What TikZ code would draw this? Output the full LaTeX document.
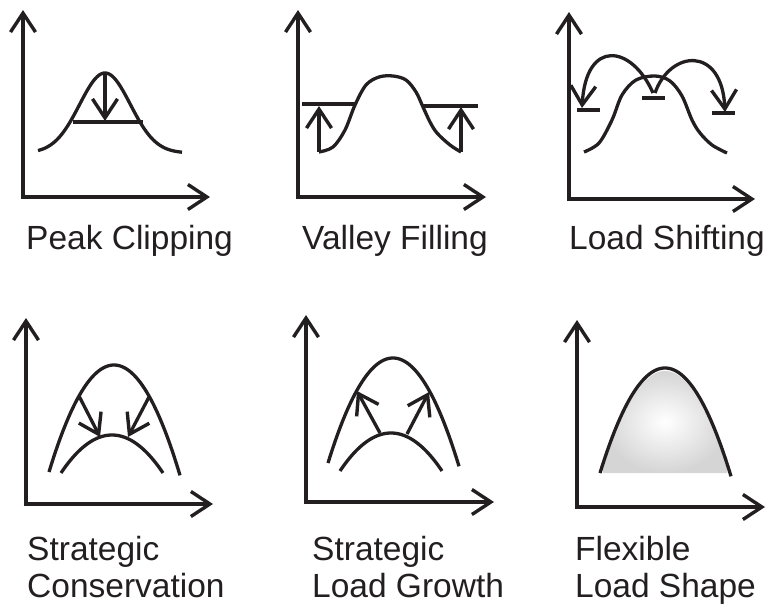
\documentclass[tikz,border=0pt]{standalone}
\usepackage{fontspec}
\setmainfont{Liberation Sans}
\usetikzlibrary{arrows.meta}
\definecolor{ink}{RGB}{35,31,32}
\begin{document}
\begin{tikzpicture}[x=1pt,y=-1pt,
  ln/.style={line width=3.3pt, draw=ink, line join=miter},
  barb/.tip={Straight Barb[length=19pt,width=25pt,line width=3.4pt]},
  ax/.style={ln, barb-barb},
  arr/.style={ln, -barb},
  lab/.style={anchor=base west, inner sep=0pt, align=left, text=ink,
    font=\fontsize{33.5}{37}\selectfont}]
\useasboundingbox (0,0) rectangle (768,612);

% ---------- Panel 1: Peak Clipping ----------
\coordinate (a1t) at (23,10); \coordinate (a1o) at (23,197); \coordinate (a1r) at (210,197);
\draw[ax] (a1t) -- (a1o) -- (a1r);
\draw[ln] plot[domain=38:182, samples=80, smooth] (\x,{153-80*exp(-((\x-105)/35.9)^2)});
\coordinate (c1l) at (73,122); \coordinate (c1r) at (143,122);
\draw[ln] (c1l) -- (c1r);
\coordinate (p1a) at (105,73); \coordinate (p1b) at (105,121);
\draw[arr] (p1a) -- (p1b);
\node[lab] (t1) at (26,250) {Peak Clipping};

% ---------- Panel 2: Valley Filling ----------
\coordinate (a2t) at (298,10); \coordinate (a2o) at (298,197); \coordinate (a2r) at (486,197);
\draw[ax] (a2t) -- (a2o) -- (a2r);
\draw[ln] plot[smooth, tension=0.55] coordinates {(319,152) (333,147) (345,130) (355,105) (366,85) (379,77) (393,76) (406,80) (416,92) (423,107) (430,122) (437,133) (450,145) (461,152)};
\coordinate (v2a) at (302,104); \coordinate (v2b) at (355,104);
\coordinate (v2c) at (423,106); \coordinate (v2d) at (478,106);
\draw[ln] (v2a) -- (v2b);
\draw[ln] (v2c) -- (v2d);
\coordinate (u2a) at (319,152); \coordinate (u2b) at (319,106);
\coordinate (u2c) at (461,152); \coordinate (u2d) at (461,107);
\draw[arr] (u2a) -- (u2b);
\draw[arr] (u2c) -- (u2d);
\node[lab] (t2) at (302,250) {Valley Filling};

% ---------- Panel 3: Load Shifting ----------
\coordinate (a3t) at (569,12); \coordinate (a3o) at (569,199); \coordinate (a3r) at (755,199);
\draw[ax] (a3t) -- (a3o) -- (a3r);
\draw[ln] plot[smooth, tension=0.55] coordinates {(584,152) (599,143) (612,120) (622,95) (636,80) (655,76) (670,81) (682,96) (692,120) (700,133) (712,145) (727,153)};
\coordinate (s3m) at (653,93); \coordinate (s3n) at (655,93);
\coordinate (s3l) at (582,108); \coordinate (s3r) at (725,112);
\draw[arr] (s3m) .. controls (632,45) and (586,38) .. (s3l);
\draw[arr] (s3n) .. controls (670,50) and (722,45) .. (s3r);
\coordinate (b3a) at (577,110); \coordinate (b3b) at (600,110);
\coordinate (b3c) at (642,98);  \coordinate (b3d) at (665,98);
\coordinate (b3e) at (712,113); \coordinate (b3f) at (735,113);
\draw[ln] (b3a) -- (b3b);
\draw[ln] (b3c) -- (b3d);
\draw[ln] (b3e) -- (b3f);
\node[lab] (t3) at (569,250) {Load Shifting};

% ---------- Panel 4: Strategic Conservation ----------
\coordinate (a4t) at (26,318); \coordinate (a4o) at (26,504); \coordinate (a4r) at (213,504);
\draw[ax] (a4t) -- (a4o) -- (a4r);
\draw[ln] plot[domain=49:180, samples=80, smooth] (\x,{365+0.02533*(\x-114)^2});
\draw[ln] plot[domain=61:163, samples=80, smooth] (\x,{435+0.0146*(\x-112)^2});
\coordinate (k4a) at (79,396); \coordinate (k4b) at (100,437);
\coordinate (k4c) at (149,397); \coordinate (k4d) at (128,437);
\draw[arr] (k4a) -- (k4b);
\draw[arr] (k4c) -- (k4d);
\node[lab] (t4) at (27,597) {Strategic\\Conservation};

% ---------- Panel 5: Strategic Load Growth ----------
\coordinate (a5t) at (306,315); \coordinate (a5o) at (306,502); \coordinate (a5r) at (494,502);
\draw[ax] (a5t) -- (a5o) -- (a5r);
\draw[ln] plot[domain=328:459, samples=80, smooth] (\x,{358+0.02485*(\x-393)^2});
\draw[ln] plot[domain=340:442, samples=80, smooth] (\x,{433+0.0146*(\x-391)^2});
\coordinate (g5a) at (380,433); \coordinate (g5b) at (357,391);
\coordinate (g5c) at (407,434); \coordinate (g5d) at (429,392);
\draw[arr] (g5a) -- (g5b);
\draw[arr] (g5c) -- (g5d);
\node[lab] (t5) at (312,597) {Strategic\\Load Growth};

% ---------- Panel 6: Flexible Load Shape ----------
\coordinate (a6t) at (577,320); \coordinate (a6o) at (577,507); \coordinate (a6r) at (765,507);
\draw[ax] (a6t) -- (a6o) -- (a6r);
\shade[inner color=white, outer color=gray!33]
  plot[domain=603:727, samples=80, smooth] (\x,{371+0.0251*(\x-665)^2}) -- (727,473) -- (603,473) -- cycle;
\draw[ln] plot[domain=600:731, samples=80, smooth] (\x,{368+0.02485*(\x-665)^2});
\node[lab] (t6) at (575,597) {Flexible\\Load Shape};
\end{tikzpicture}
\end{document}
